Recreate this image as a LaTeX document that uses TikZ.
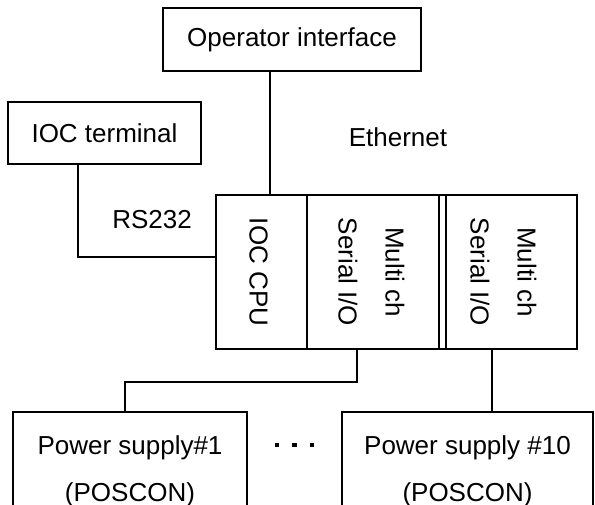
\documentclass[tikz,border=0pt]{standalone}
\usepackage{fontspec}
\setmainfont{Liberation Sans}
\begin{document}
\begin{tikzpicture}[x=1pt,y=-1pt,
  box/.style={draw,line width=1.7pt,inner sep=0pt,align=center},
  txt/.style={inner sep=0pt,align=center},
  vtext/.style={inner sep=0pt,align=center,rotate=-90},
  wire/.style={line width=1.7pt},
  dotmark/.style={fill=black,inner sep=0pt,minimum size=4.5pt},
  every node/.append style={font=\fontsize{26}{47}\selectfont}]
\useasboundingbox (0,0) rectangle (595,504);
\fill[white] (0,0) rectangle (595,504);
% top boxes
\node[box,minimum width=258pt,minimum height=63pt] (op) at (292,39.5) {Operator interface};
\node[box,minimum width=193pt,minimum height=62pt] (term) at (104.5,133) {IOC terminal};
\node[txt] (eth) at (398,137) {Ethernet};
\node[txt] (rs) at (152,220) {RS232};
% crate
\node[draw,line width=1.7pt,minimum width=361pt,minimum height=154pt,inner sep=0pt] (crate) at (396.5,272) {};
\node[box,minimum width=91pt,minimum height=154pt] (cpu) at (261.5,272) {};
\node[box,minimum width=132pt,minimum height=154pt] (mio1) at (373,272) {};
\node[box,minimum width=131pt,minimum height=154pt] (mio2) at (511.5,272) {};
\node[vtext] (cpuT) at ([xshift=-3pt]cpu.center) {IOC CPU};
\node[vtext] (mio1T) at ([xshift=-1.5pt]mio1.center) {Multi ch\\Serial I/O};
\node[vtext] (mio2T) at ([xshift=-8pt]mio2.center) {Multi ch\\Serial I/O};
% power supplies
\node[box,minimum width=234pt,minimum height=119pt] (ps1) at (130,471.5) {Power supply\#1\\(POSCON)};
\node[box,minimum width=251pt,minimum height=119pt] (ps10) at (467.5,471.5) {Power supply \#10\\(POSCON)};
\node[dotmark] (d1) at (277,445) {};
\node[dotmark] (d2) at (294.5,445) {};
\node[dotmark] (d3) at (312,445) {};
% connectors
\draw[wire] ([xshift=8.5pt]cpu.north) -- ([xshift=8.5pt]cpu.north |- op.south);
\draw[wire] ([xshift=-26.5pt]term.south) |- ([yshift=15pt]cpu.west);
\draw[wire] ([xshift=-16pt]mio1.south) -- ++(0,32) -| ([xshift=-5pt]ps1.north);
\draw[wire] ([xshift=-19.5pt]mio2.south) -- ([xshift=-19.5pt]mio2.south |- ps10.north);
\end{tikzpicture}
\end{document}
